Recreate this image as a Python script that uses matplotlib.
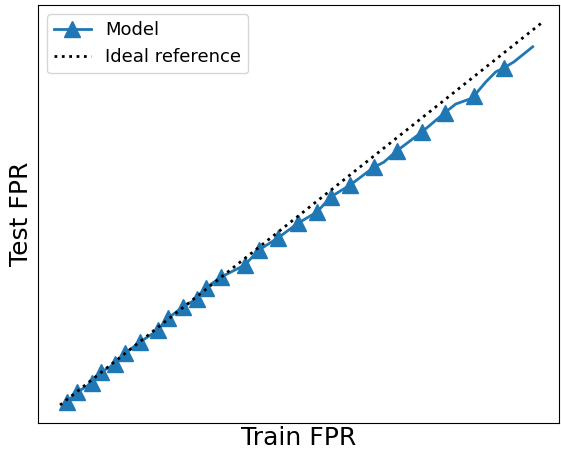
import numpy as np
import matplotlib
matplotlib.use("Agg")
import matplotlib.pyplot as plt

# model curve (train FPR vs test FPR), axis units 0..1
train_fpr = [0.056, 0.075, 0.104, 0.121, 0.148, 0.167, 0.196, 0.230, 0.250, 0.278,
             0.305, 0.322, 0.351, 0.397, 0.424, 0.461, 0.499, 0.536, 0.562, 0.599,
             0.645, 0.664, 0.689, 0.737, 0.781, 0.802, 0.829, 0.837, 0.860, 0.879,
             0.894, 0.914, 0.950]
test_fpr = [0.050, 0.074, 0.096, 0.122, 0.141, 0.167, 0.194, 0.222, 0.251, 0.278,
            0.297, 0.323, 0.349, 0.378, 0.414, 0.443, 0.478, 0.505, 0.541, 0.569,
            0.612, 0.624, 0.651, 0.696, 0.742, 0.763, 0.775, 0.782, 0.816, 0.840,
            0.849, 0.864, 0.900]
marker_idx = [0, 1, 2, 3, 4, 5, 6, 7, 8, 9, 10, 11, 12, 13, 14, 15, 16, 17, 18, 19,
              20, 22, 23, 24, 27, 30]

ideal_x = [0.042, 0.967]
ideal_y = [0.043, 0.957]

fig = plt.figure(figsize=(5.61, 4.51), dpi=100)
ax = fig.add_axes([0.068, 0.062, 0.928, 0.927])

ax.plot(train_fpr, test_fpr, color='#1f77b4', lw=2, marker='^', markersize=11,
        markevery=marker_idx, label='Model')
ax.plot(ideal_x, ideal_y, color='black', ls=':', lw=2, label='Ideal reference')

ax.set_xlim(0, 1)
ax.set_ylim(0, 1)
ax.set_xticks([])
ax.set_yticks([])
ax.set_xlabel("Train FPR", fontsize=18, labelpad=2)
ax.set_ylabel("Test FPR", fontsize=18, labelpad=4)
ax.legend(loc='upper left', fontsize=13)

fig.savefig("out.png", dpi=100)
